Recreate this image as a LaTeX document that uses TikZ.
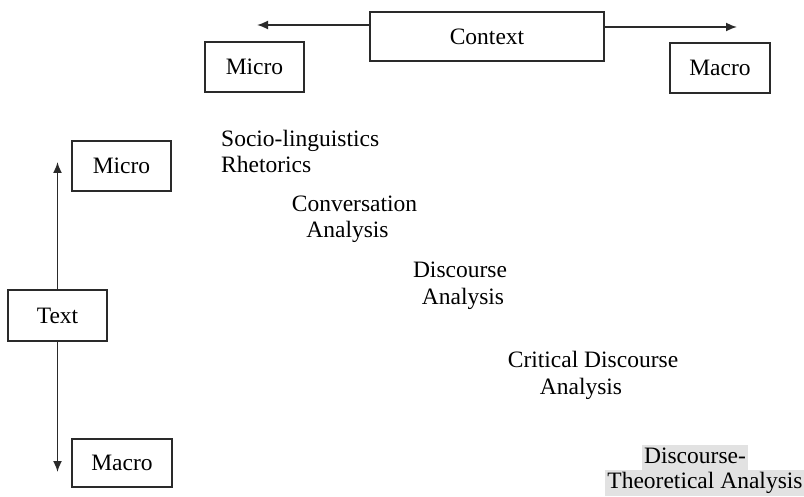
\documentclass[tikz,border=0pt]{standalone}
\usepackage{fontspec}
\setmainfont{Liberation Serif}
\usetikzlibrary{arrows.meta}
\definecolor{linecol}{HTML}{2A2A2A}
\definecolor{hl}{HTML}{E2E2E2}
\begin{document}
\begin{tikzpicture}[x=1pt,y=-1pt,
  every node/.style={font=\fontsize{23.5}{27}\selectfont, text=black},
  boxnode/.style={draw=linecol, line width=1.9pt, inner sep=0pt, anchor=center},
  lbl/.style={inner sep=0pt, anchor=base},
  lblw/.style={inner sep=0pt, anchor=base west},
  hilite/.style={fill=hl, inner xsep=2pt, inner ysep=1.5pt, text height=17pt, text depth=6pt, anchor=base},
  conn/.style={draw=linecol, line width=1.7pt, -{Latex[length=11pt,width=9pt]}}]
\useasboundingbox (0,0) rectangle (804,497);
\fill[white] (0,0) rectangle (804,497);
% boxes
\node[boxnode, minimum width=234pt, minimum height=49pt] (ctx) at (487,36.5) {Context};
\node[boxnode, minimum width=99pt, minimum height=50pt] (micro1) at (254.5,67) {Micro};
\node[boxnode, minimum width=100pt, minimum height=50pt] (macro1) at (720,68) {Macro};
\node[boxnode, minimum width=99pt, minimum height=50pt] (micro2) at (121.5,166) {Micro};
\node[boxnode, minimum width=99pt, minimum height=51pt] (text) at (57.5,315.5) {Text};
\node[boxnode, minimum width=100pt, minimum height=48pt] (macro2) at (122,463) {Macro};
% arrow ends
\coordinate (ctxL) at (257,25);
\coordinate (ctxR) at (737,27);
\coordinate (txU) at (57.5,162);
\coordinate (txD) at (57.5,472);
\draw[conn] (ctxL -| ctx.west) -- (ctxL);
\draw[conn] (ctxR -| ctx.east) -- (ctxR);
\draw[conn] (text.north) -- (txU);
\draw[conn] (text.south) -- (txD);
% labels
\node[lblw] (socio1) at (221,147) {Socio-linguistics};
\node[lblw] (socio2) at (221,173) {Rhetorics};
\node[lbl] (conv1) at (354.5,212) {Conversation};
\node[lbl] (conv2) at (347.5,238) {Analysis};
\node[lbl] (disc1) at (460,278) {Discourse};
\node[lbl] (disc2) at (463,305) {Analysis};
\node[lbl] (crit1) at (593,367) {Critical Discourse};
\node[lbl] (crit2) at (581,395) {Analysis};
\node[hilite] (dt1) at (695,463) {Discourse-};
\node[hilite] (dt2) at (705,488) {Theoretical Analysis};
\end{tikzpicture}
\end{document}
